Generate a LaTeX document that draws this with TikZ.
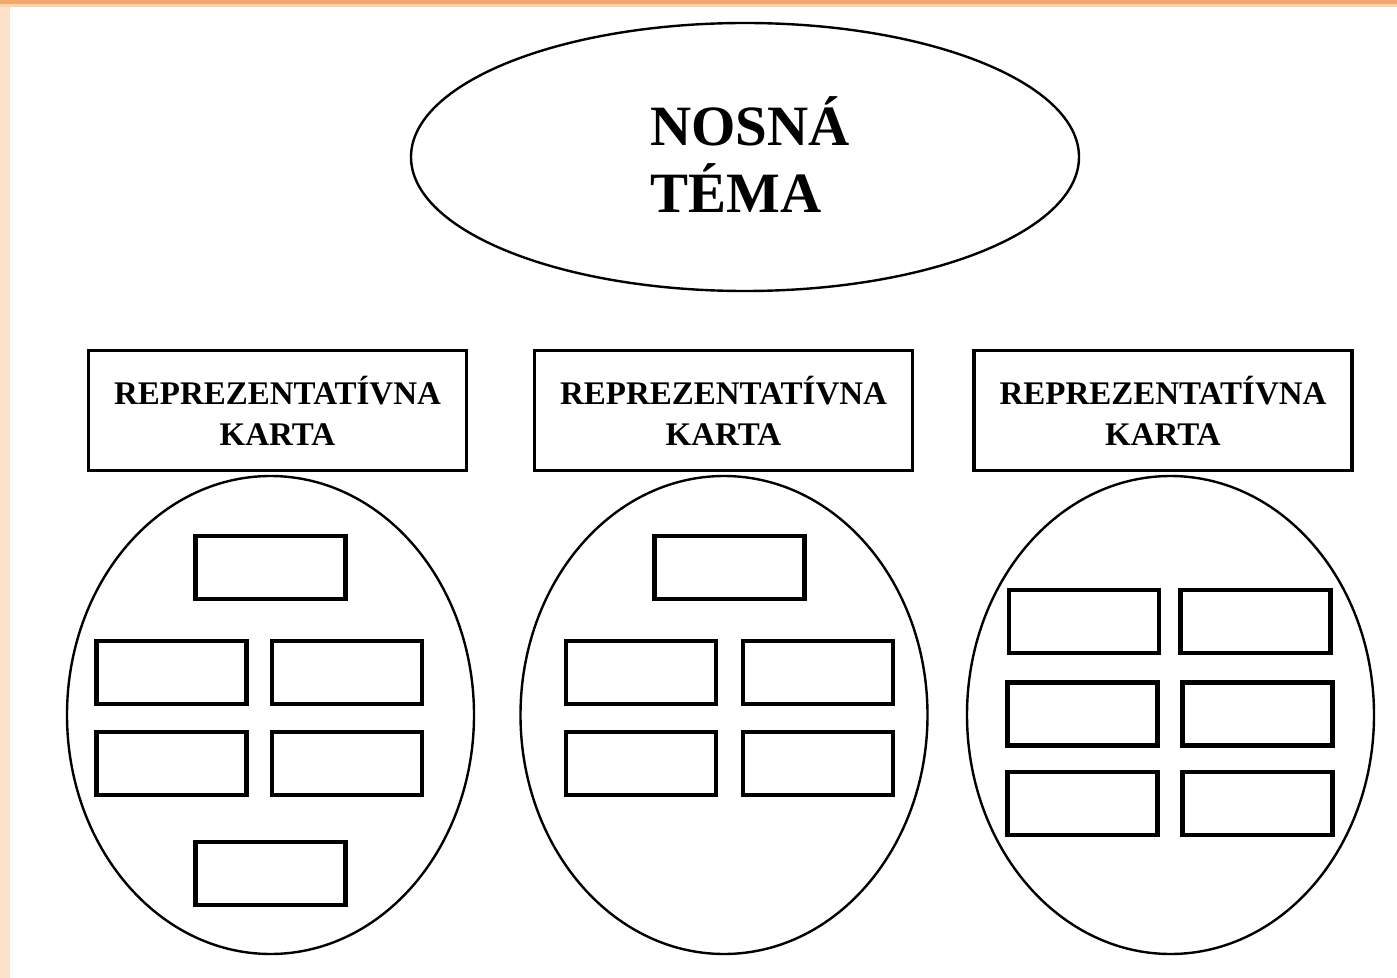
\documentclass[tikz,border=0pt]{standalone}
\usepackage{fontspec}
\setmainfont{Liberation Serif}
\usetikzlibrary{shapes.geometric,positioning}

\definecolor{bandorange}{RGB}{241,168,108}
\definecolor{bandlight}{RGB}{250,210,172}
\definecolor{stripbeige}{RGB}{252,225,203}

\begin{document}
\begin{tikzpicture}[x=0.5pt,y=-0.5pt,
  topic node/.style={ellipse,draw,line width=1.2pt,minimum width=334pt,
    minimum height=134pt,inner sep=0pt},
  topic label/.style={align=left,inner sep=0pt,
    font=\bfseries\fontsize{28.5}{33.5}\selectfont},
  card node/.style={rectangle,draw,line width=1.9pt,minimum width=189pt,
    minimum height=60pt,align=center,
    font=\bfseries\fontsize{16.5}{20.5}\selectfont},
  group node/.style={ellipse,draw,line width=1.2pt,minimum width=203.5pt,
    minimum height=239pt,inner sep=0pt},
  item node/.style={rectangle,draw,line width=2.3pt,minimum width=75pt,
    minimum height=31.5pt,inner sep=0pt}]
  \useasboundingbox (0,0) rectangle (1397,978);
  \fill[white] (0,0) rectangle (1397,978);
  \fill[bandorange] (0,0) rectangle (1397,4);
  \fill[bandlight] (0,4) rectangle (1397,7);
  \fill[stripbeige] (0,7) rectangle (10,978);

  \node[topic node] (topic) at (745,157) {};
  \node[topic label] (topictext) at (750,155) {NOSNÁ\\TÉMA};

  \node[card node] (card1) at (277.5,410.5) {REPREZENTATÍVNA\\KARTA};
  \node[card node] (card2) at (723.5,410.5) {REPREZENTATÍVNA\\KARTA};
  \node[card node] (card3) at (1163,410.5) {REPREZENTATÍVNA\\KARTA};

  \node[group node] (group1) at (270.5,715) {};
  \node[group node] (group2) at (724,715) {};
  \node[group node] (group3) at (1170.5,715) {};

  % first group
  \node[item node] (a1) at (270.5,567.5) {};
  \node[item node] (a2) at (171.5,672.5) {};
  \node[item node] (a3) at (347,672.5) {};
  \node[item node] (a4) at (171.5,763.5) {};
  \node[item node] (a5) at (347,763.5) {};
  \node[item node] (a6) at (270.5,873.5) {};

  % second group
  \node[item node] (b1) at (729.5,567.5) {};
  \node[item node] (b2) at (641,672.5) {};
  \node[item node] (b3) at (818,672.5) {};
  \node[item node] (b4) at (641,763.5) {};
  \node[item node] (b5) at (818,763.5) {};

  % third group
  \node[item node] (c1) at (1084,621.5) {};
  \node[item node] (c2) at (1255.5,621.5) {};
  \node[item node] (c3) at (1082.5,714) {};
  \node[item node] (c4) at (1257.5,714) {};
  \node[item node] (c5) at (1082.5,803.5) {};
  \node[item node] (c6) at (1257.5,803.5) {};
\end{tikzpicture}
\end{document}
